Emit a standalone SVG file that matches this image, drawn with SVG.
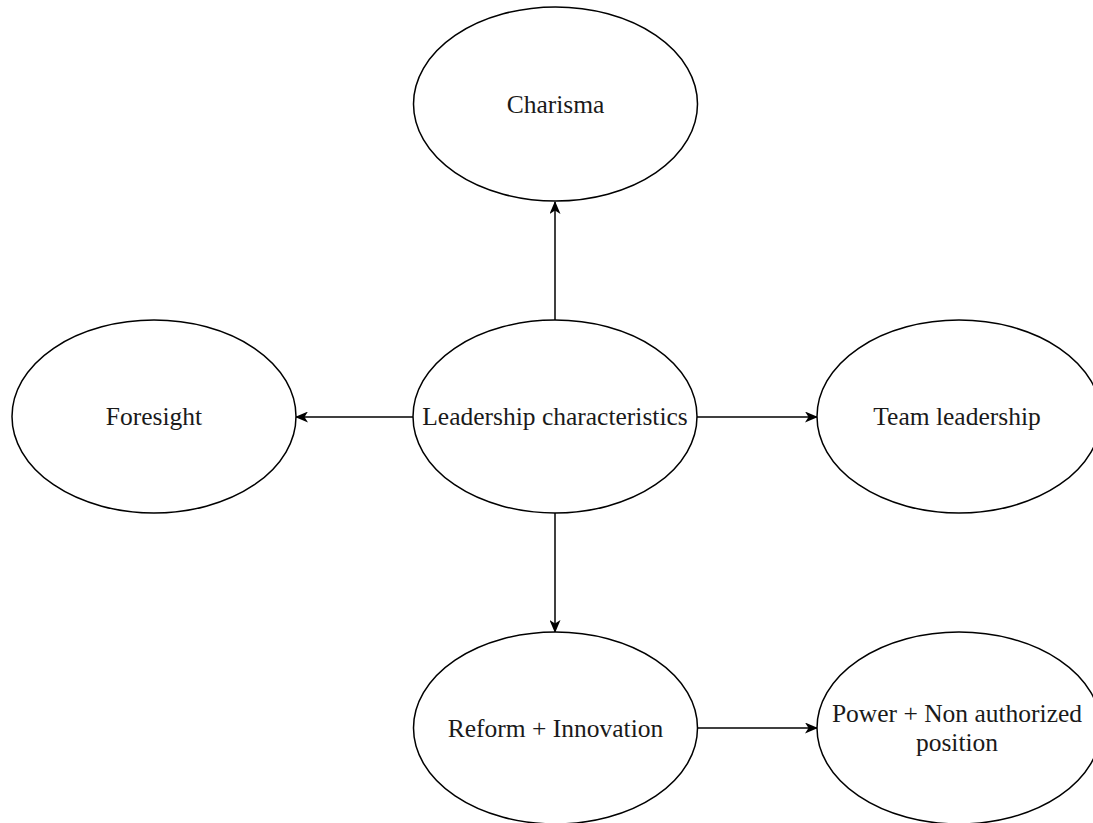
<svg xmlns="http://www.w3.org/2000/svg" width="1093" height="823" viewBox="0 0 1093 823">
<style>
.n ellipse{fill:#fff;stroke:#000;stroke-width:1.5}
.n text{font-size:25.5px;fill:#1a1a1a;text-anchor:middle}
.e line{stroke:#000;stroke-width:1.5}
</style>
<defs>
<marker id="ah" viewBox="0 0 13 11" refX="12" refY="5.5" markerWidth="13" markerHeight="11" markerUnits="userSpaceOnUse" orient="auto">
<path d="M0,0 L13,5.5 L0,11 L3.5,5.5 Z" fill="#000"/>
</marker>
</defs>
<rect width="1093" height="823" fill="#fff"/>
<g class="e">
<line x1="555" y1="320" x2="555" y2="202" marker-end="url(#ah)"/>
<line x1="413" y1="417" x2="296" y2="417" marker-end="url(#ah)"/>
<line x1="697" y1="417" x2="817" y2="417" marker-end="url(#ah)"/>
<line x1="555" y1="513" x2="555" y2="632" marker-end="url(#ah)"/>
<line x1="697" y1="728" x2="817" y2="728" marker-end="url(#ah)"/>
</g>
<g class="n" font-family="Liberation Serif, Times New Roman, serif">
<g id="charisma"><ellipse cx="555.5" cy="104" rx="142" ry="97"/><text x="555.5" y="113">Charisma</text></g>
<g id="leadership"><ellipse cx="555" cy="416.5" rx="142" ry="96.5"/><text x="555" y="425">Leadership characteristics</text></g>
<g id="foresight"><ellipse cx="154" cy="416.5" rx="142" ry="96.5"/><text x="154" y="425">Foresight</text></g>
<g id="team"><ellipse cx="959" cy="416.5" rx="142" ry="96.5"/><text x="957" y="425">Team leadership</text></g>
<g id="reform"><ellipse cx="555.5" cy="728" rx="142" ry="96"/><text x="555.5" y="737">Reform + Innovation</text></g>
<g id="power"><ellipse cx="959" cy="728" rx="142" ry="96"/><text x="957" y="722">Power + Non authorized</text><text x="957" y="751">position</text></g>
</g>
</svg>
